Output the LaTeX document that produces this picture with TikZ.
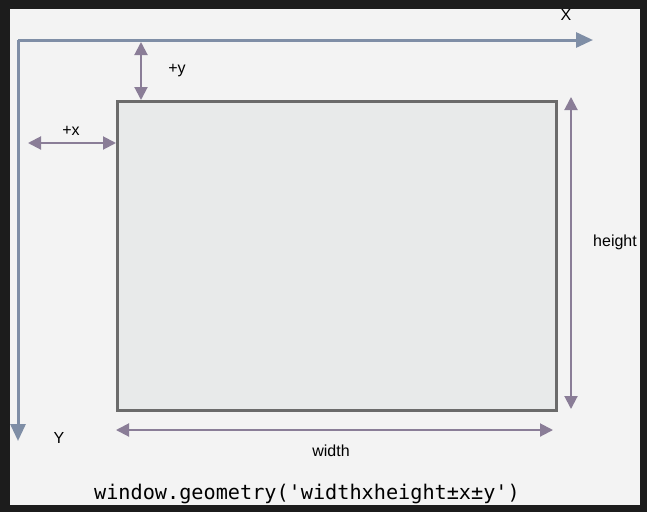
\documentclass[tikz,border=0pt]{standalone}
\usepackage{fontspec}
\setmainfont{Liberation Sans}
\setmonofont{DejaVu Sans Mono}
\usetikzlibrary{arrows.meta}
\definecolor{bgdark}{HTML}{1C1C1C}
\definecolor{panel}{HTML}{F3F3F3}
\definecolor{axiscol}{HTML}{7F8EA6}
\definecolor{dimcol}{HTML}{8A7D97}
\definecolor{winfill}{HTML}{E8EAEA}
\definecolor{winborder}{HTML}{6B6B6B}
\tikzset{
  axis/.style={draw=axiscol, line width=3pt, -{Triangle[length=17pt,width=15pt]}},
  dimline/.style={draw=dimcol, line width=2pt, {Triangle[length=13pt,width=13pt]}-{Triangle[length=13pt,width=13pt]}},
  lbl/.style={font=\fontsize{16}{16}\selectfont, text=black, inner sep=0pt},
}
\begin{document}
\begin{tikzpicture}[x=1pt,y=-1pt]
\fill[bgdark] (0,0) rectangle (647,512);
\useasboundingbox (0,0) rectangle (647,512);
\fill[panel] (10,9) rectangle (640,505);
% axes
\coordinate (O) at (18,40);
\coordinate (Xend) at (593,40);
\coordinate (Yend) at (18,441);
\draw[axis] (O) -- (Xend);
\draw[axis] (O) -- (Yend);
\node[lbl] (X) at (566,15) {X};
\node[lbl] (Y) at (59,438) {Y};
% window
\node[draw=winborder, fill=winfill, line width=3pt, minimum width=439pt, minimum height=309pt, inner sep=0pt, anchor=north west] (win) at (116,100) {};
% +y
\coordinate (ytop) at (141,42);
\draw[dimline] (ytop) -- (win.north west -| ytop);
\node[lbl] (ylbl) at (177,71) {+y};
% +x
\coordinate (xleft) at (28,143);
\draw[dimline] (xleft) -- (xleft -| win.west);
\node[lbl] (xlbl) at (71,131) {+x};
% height
\coordinate (htop) at (571,97);
\coordinate (hbot) at (571,409);
\draw[dimline] (htop) -- (hbot);
\node[lbl, anchor=west] (hlbl) at (593,242) {height};
\fill[bgdark] (640,9) rectangle (647,505);
% width
\coordinate (wl) at (116,430);
\coordinate (wr) at (553,430);
\draw[dimline] (wl) -- (wr);
\node[lbl] (wlbl) at (331,451) {width};
% code
\node[font=\ttfamily\fontsize{20.2}{21}\selectfont, inner sep=0pt] (code) at (307,494) {window.geometry('widthxheight±x±y')};
\end{tikzpicture}
\end{document}
